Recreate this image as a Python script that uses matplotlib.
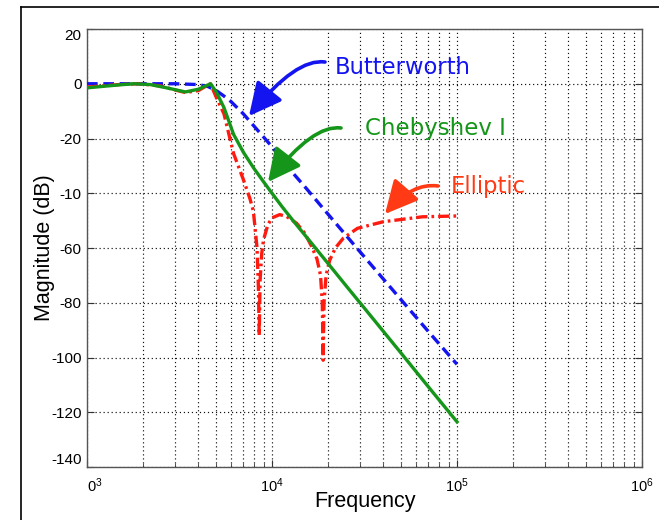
import matplotlib
matplotlib.use("Agg")
import matplotlib.pyplot as plt
from matplotlib.patches import FancyArrowPatch
from matplotlib.lines import Line2D
from matplotlib.ticker import NullFormatter, LogLocator, FixedLocator

# ---- data ----
butter_f = [1000, 2000, 3000, 4000, 4500, 5000, 5500, 6000, 7000, 8000, 10000,
            12000, 15000, 20000, 30000, 50000, 70000, 100000]
butter_db = [0, 0, 0, -0.3, -1.0, -2.5, -4.5, -6.5, -11, -15.5, -23,
             -30, -37.5, -47.5, -61.5, -79, -90.5, -102.5]

cheby_f = [1000, 1200, 1500, 1800, 2200, 2700, 3400, 4000, 4650, 5000, 5500, 6200,
           7000, 8000, 9000, 10000, 11300, 13000, 16700, 20000, 26000, 31000,
           50000, 70000, 100000]
cheby_db = [-1.5, -1.0, -0.4, 0, -0.3, -1.5, -3.0, -2.0, 0, -3, -8.7, -18.5,
            -25, -31, -35.8, -40, -44.8, -50, -59, -65.5, -75, -81.3,
            -98.5, -110.7, -123.5]

ellip_f = [1000, 1500, 1900, 2500, 3000, 3400, 4000, 4500, 4650, 5000, 5500, 6200,
           7000, 7600, 7930, 8300, 8450, 8530, 8620, 8800, 9000, 9500, 10000,
           11000, 12000, 13600, 15000, 16400, 17500, 18300, 18700, 18900, 19100,
           19600, 20500, 22000, 24300, 29000, 40000, 65000, 100000]
ellip_db = [-1.2, -0.3, 0, -0.8, -2.3, -3.2, -2.5, -0.5, 0, -5, -11, -25.5,
            -35, -42, -46.5, -60, -75, -92, -72, -62, -57, -51.5, -49,
            -47.8, -48.5, -51, -54.5, -59.5, -64, -70, -80, -101, -80,
            -70, -64.5, -60, -56.4, -52.8, -50.4, -48.6, -48.3]

yticks = [20, 0, -20, -40, -60, -80, -100, -120, -140]
ytick_labels = ["20", "0", "-20", "-10", "-60", "-80", "-100", "-120", "-140"]
xticks = [1e3, 1e4, 1e5, 1e6]
xtick_labels = [r"$\mathregular{0^3}$", r"$\mathregular{10^4}$",
                r"$\mathregular{10^5}$", r"$\mathregular{10^6}$"]

names = ["Butterworth", "Chebyshev I", "Elliptic"]

# ---- figure ----
W, H = 659, 520
fig = plt.figure(figsize=(W / 100, H / 100), dpi=100)
fig.patch.set_facecolor("white")

L, R, T, B = 87, 642, 29, 467
ax = fig.add_axes([L / W, 1 - B / H, (R - L) / W, (B - T) / H])

BLUE = "#1414f0"
GREEN = "#15961a"
RED = "#ff1a10"
ORANGE = "#ff3a14"

ax.semilogx(butter_f, butter_db, color=BLUE, lw=2.4, dashes=(3.2, 1.7),
            dash_capstyle="butt", zorder=3)
ax.semilogx(cheby_f, cheby_db, color=GREEN, lw=2.4, zorder=4)
ax.semilogx(ellip_f, ellip_db, color=RED, lw=2.4, dashes=(3.4, 1.2, 0.8, 1.2),
            zorder=3)

ax.set_xlim(1e3, 1e6)
ax.set_ylim(-140, 20)

ax.xaxis.set_major_locator(FixedLocator(xticks))
ax.xaxis.set_minor_locator(LogLocator(base=10, subs=range(2, 10), numticks=20))
ax.xaxis.set_minor_formatter(NullFormatter())
ax.set_xticklabels(xtick_labels, fontsize=10.5, family="Liberation Sans")
ax.set_yticks(yticks)
ax.set_yticklabels(ytick_labels, fontsize=11, family="Liberation Sans")

ax.tick_params(which="both", direction="in", top=False, right=True, color="#333333")
ax.tick_params(which="major", length=5, width=0.8)
ax.tick_params(which="minor", length=3, width=0.6)
ax.tick_params(axis="y", pad=4)
ax.tick_params(axis="x", pad=7)

lbls = ax.get_yticklabels()
lbls[0].set_va("top")
lbls[-1].set_va("bottom")
ax.get_xticklabels()[0].set_ha("left")

grid_kw = dict(color="#111111", linestyle=(0, (1, 2.4)), lw=0.85)
ax.grid(True, which="major", axis="both", **grid_kw)
ax.grid(True, which="minor", axis="x", **grid_kw)

for s in ax.spines.values():
    s.set_color("#555555")
    s.set_linewidth(1.0)

ax.set_xlabel("Frequency", fontsize=15.5, family="Liberation Sans", labelpad=-3)
ax.set_ylabel("Magnitude (dB)", fontsize=15.5, family="Liberation Sans", labelpad=-3)

# ---- annotations (pixel positions converted to axes fractions) ----
def af(px, py):
    return ((px - L) / (R - L), (B - py) / (B - T))

ax.text(*af(335, 68), names[0], transform=ax.transAxes, color=BLUE, fontsize=16.3,
        family="DejaVu Sans", va="center", ha="left")
ax.text(*af(365, 129), names[1], transform=ax.transAxes, color=GREEN, fontsize=16.5,
        family="DejaVu Sans", va="center", ha="left")
ax.text(*af(451, 187), names[2], transform=ax.transAxes, color=ORANGE, fontsize=16.3,
        family="DejaVu Sans", va="center", ha="left")

def arrow(p0, p1, color, angA, angB):
    a = FancyArrowPatch(af(*p0), af(*p1), transform=ax.transAxes,
                        arrowstyle="-|>,head_length=2.0,head_width=1.0",
                        mutation_scale=10,
                        connectionstyle=f"angle3,angleA={angA},angleB={angB}",
                        color=color, lw=2.6, shrinkA=0, shrinkB=0, zorder=6)
    ax.add_patch(a)

arrow((325, 62), (249, 116), BLUE, -8, 51)
arrow((341, 128), (268, 182), GREEN, -8, 52)
arrow((438, 186), (385, 214), ORANGE, -8, 49)

# ---- outer frame ----
fig.add_artist(Line2D([21 / W, 21 / W], [0, 1 - 6.5 / H], color="black", lw=1.2,
                      transform=fig.transFigure))
fig.add_artist(Line2D([21 / W, 1], [1 - 6.5 / H, 1 - 6.5 / H], color="black", lw=1.2,
                      transform=fig.transFigure))

fig.savefig("out.png", dpi=100)
